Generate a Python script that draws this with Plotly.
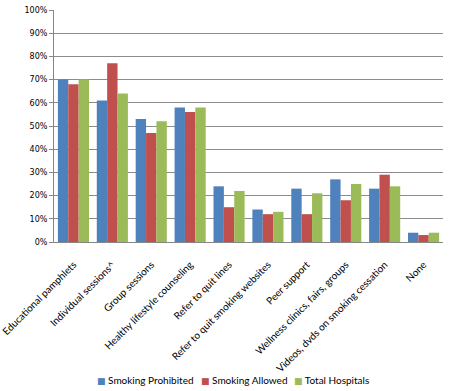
import plotly.graph_objects as go

categories = ["Educational pamphlets", "Individual sessions^", "Group sessions",
              "Healthy lifestyle counseling", "Refer to quit lines",
              "Refer to quit smoking websites", "Peer support",
              "Wellness clinics, fairs, groups", "Videos, dvds on smoking cessation", "None"]
smoking_prohibited = [70, 61, 53, 58, 24, 14, 23, 27, 23, 4]
smoking_allowed = [68, 77, 47, 56, 15, 12, 12, 18, 29, 3]
total_hospitals = [70, 64, 52, 58, 22, 13, 21, 25, 24, 4]

series = [("Smoking Prohibited", smoking_prohibited, "#4F81BD"),
          ("Smoking Allowed", smoking_allowed, "#C0504D"),
          ("Total Hospitals", total_hospitals, "#9BBB59")]
legend_x = [0.105, 0.372, 0.613]

fig = go.Figure()
for name, vals, col in series:
    fig.add_trace(go.Bar(x=categories, y=[v / 100 for v in vals], name=name,
                         showlegend=False,
                         marker=dict(color=col, line=dict(width=0))))

lab_font = dict(family="Lato, Carlito, sans-serif", size=10, color="#000000")
ytick_font = dict(family="DejaVu Sans, Verdana, sans-serif", size=8, color="#000000")

# legend built as text items (square swatch + series name)
for (name, vals, col), lx in zip(series, legend_x):
    fig.add_annotation(
        x=lx, y=-0.595, xref="paper", yref="paper", xanchor="left", yanchor="middle",
        showarrow=False, font=lab_font,
        text=f"<span style='color:{col};font-family:DejaVu Sans;font-size:9px'>■</span> {name}",
    )

fig.update_layout(
    width=449, height=391,
    margin=dict(l=54, r=6, t=10, b=149),
    paper_bgcolor="white", plot_bgcolor="white",
    barmode="group", bargap=0.2, bargroupgap=0,
    font=lab_font, showlegend=False,
    xaxis=dict(tickangle=-45, showline=True, linecolor="#868686", linewidth=1,
               ticks="", ticklabelstandoff=12,
               tickfont=lab_font, automargin=False),
    yaxis=dict(range=[0, 1], dtick=0.1, tickformat=".0%", showgrid=True,
               gridcolor="#8C8C8C", gridwidth=1, showline=True, linecolor="#868686",
               linewidth=1, ticks="outside", ticklen=4, tickcolor="#868686",
               tickfont=ytick_font, zeroline=False, automargin=False),
)
fig.write_html("out.html", config={"displayModeBar": False},
               post_script="document.body.style.margin='0';")
